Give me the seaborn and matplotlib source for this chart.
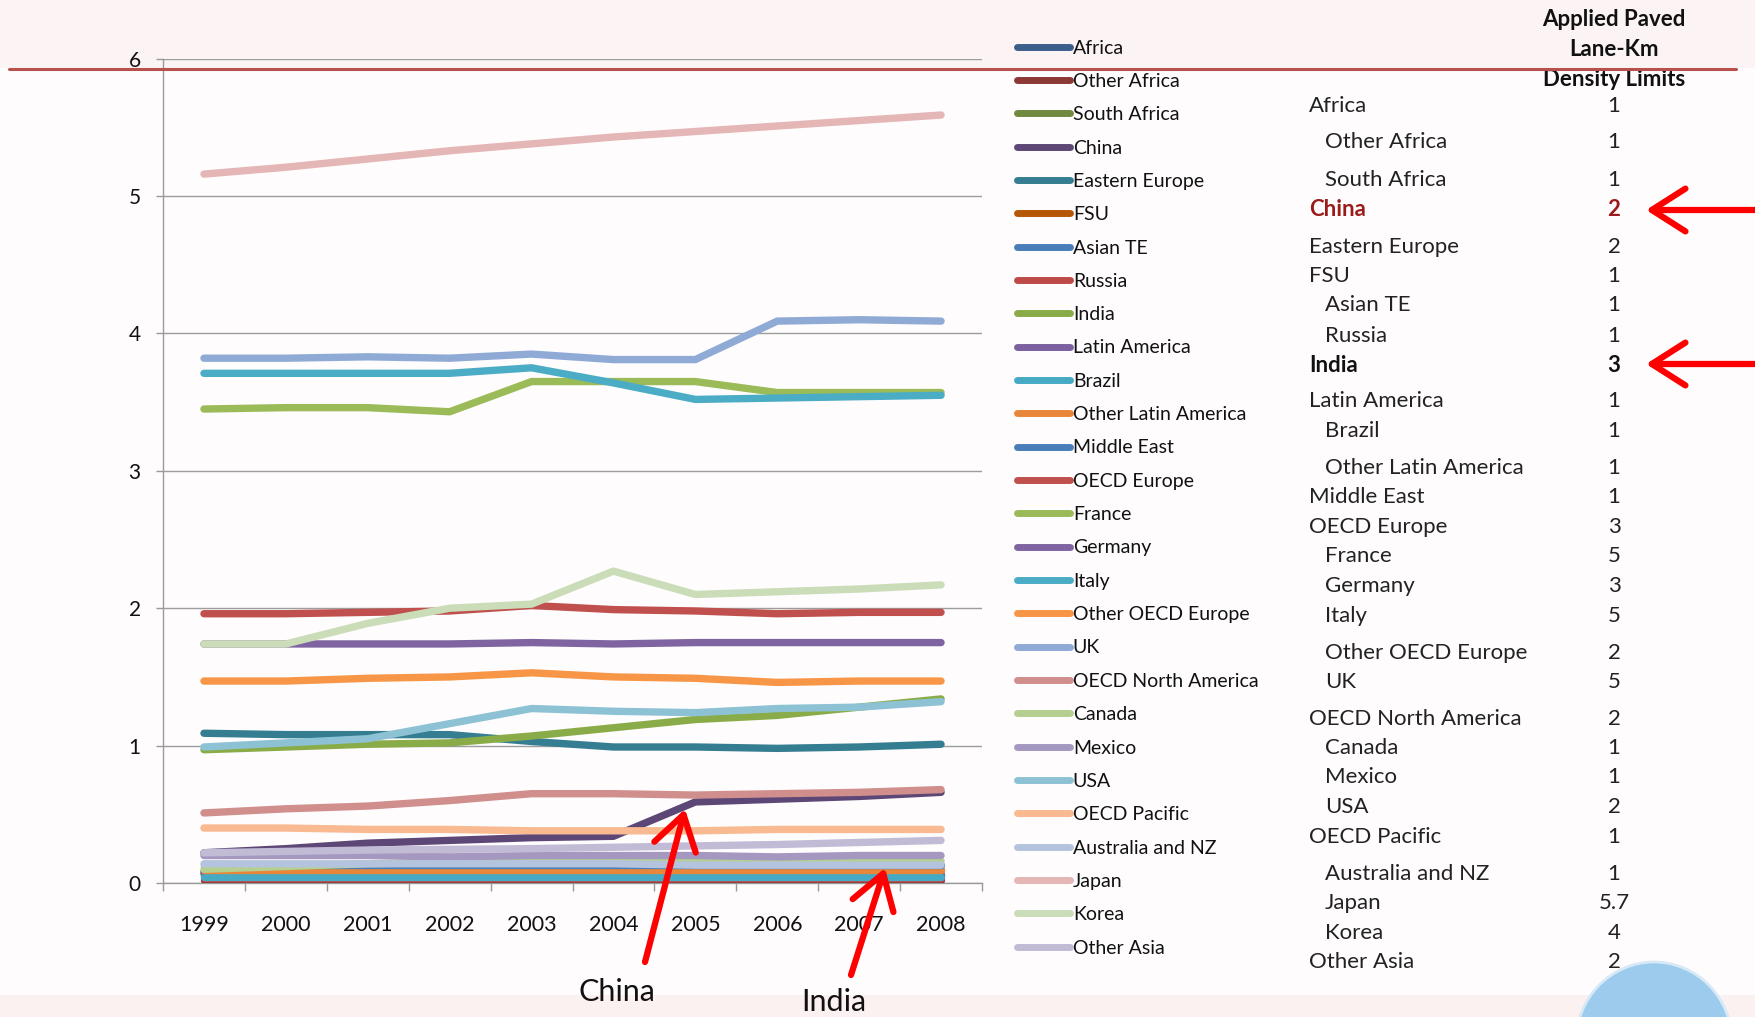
import matplotlib
matplotlib.use("Agg")
import matplotlib.pyplot as plt
import seaborn as sns
import pandas as pd
import numpy as np
from matplotlib.lines import Line2D
from matplotlib.patches import Rectangle, Ellipse, FancyArrowPatch

# ---------------- data ----------------
years = [1999, 2000, 2001, 2002, 2003, 2004, 2005, 2006, 2007, 2008]

africa          = [0.05, 0.05, 0.05, 0.05, 0.05, 0.05, 0.05, 0.05, 0.05, 0.05]
other_africa    = [0.02, 0.02, 0.02, 0.02, 0.02, 0.02, 0.02, 0.02, 0.02, 0.02]
south_africa    = [0.06, 0.06, 0.06, 0.06, 0.06, 0.06, 0.06, 0.06, 0.06, 0.06]
china           = [0.22, 0.25, 0.29, 0.31, 0.33, 0.34, 0.59, 0.61, 0.63, 0.66]
eastern_europe  = [1.09, 1.08, 1.08, 1.08, 1.03, 0.99, 0.99, 0.98, 0.99, 1.01]
fsu             = [0.07, 0.07, 0.07, 0.07, 0.075, 0.075, 0.075, 0.078, 0.078, 0.078]
asian_te        = [0.08, 0.11, 0.11, 0.10, 0.10, 0.10, 0.10, 0.10, 0.10, 0.10]
russia          = [0.04, 0.04, 0.04, 0.04, 0.04, 0.04, 0.04, 0.04, 0.04, 0.04]
india           = [0.97, 0.99, 1.01, 1.02, 1.07, 1.13, 1.19, 1.22, 1.28, 1.34]
latin_america   = [0.055, 0.055, 0.055, 0.055, 0.055, 0.055, 0.055, 0.055, 0.055, 0.055]
brazil          = [0.045, 0.045, 0.045, 0.045, 0.045, 0.045, 0.045, 0.045, 0.045, 0.045]
other_latam     = [0.095, 0.095, 0.095, 0.095, 0.095, 0.095, 0.095, 0.095, 0.095, 0.095]
middle_east     = [0.13, 0.13, 0.13, 0.13, 0.13, 0.13, 0.13, 0.13, 0.13, 0.13]
oecd_europe     = [1.96, 1.96, 1.97, 1.98, 2.02, 1.99, 1.98, 1.96, 1.97, 1.97]
france          = [3.45, 3.46, 3.46, 3.43, 3.65, 3.65, 3.65, 3.57, 3.57, 3.57]
germany         = [1.74, 1.74, 1.74, 1.74, 1.75, 1.74, 1.75, 1.75, 1.75, 1.75]
italy           = [3.71, 3.71, 3.71, 3.71, 3.75, 3.64, 3.52, 3.53, 3.54, 3.55]
other_oecd_eur  = [1.47, 1.47, 1.49, 1.50, 1.53, 1.50, 1.49, 1.46, 1.47, 1.47]
uk              = [3.82, 3.82, 3.83, 3.82, 3.85, 3.81, 3.81, 4.09, 4.10, 4.09]
oecd_n_america  = [0.51, 0.54, 0.56, 0.60, 0.65, 0.65, 0.64, 0.65, 0.66, 0.68]
canada          = [0.10, 0.12, 0.14, 0.15, 0.16, 0.16, 0.16, 0.16, 0.16, 0.16]
mexico          = [0.20, 0.20, 0.20, 0.19, 0.20, 0.20, 0.20, 0.19, 0.20, 0.20]
usa             = [0.99, 1.02, 1.05, 1.16, 1.27, 1.25, 1.24, 1.27, 1.28, 1.32]
oecd_pacific    = [0.40, 0.40, 0.39, 0.39, 0.38, 0.38, 0.38, 0.39, 0.39, 0.39]
australia_nz    = [0.14, 0.14, 0.14, 0.14, 0.14, 0.14, 0.13, 0.13, 0.13, 0.13]
japan           = [5.16, 5.21, 5.27, 5.33, 5.38, 5.43, 5.47, 5.51, 5.55, 5.59]
korea           = [1.74, 1.74, 1.89, 2.00, 2.03, 2.27, 2.10, 2.12, 2.14, 2.17]
other_asia      = [0.22, 0.23, 0.24, 0.245, 0.25, 0.26, 0.27, 0.28, 0.295, 0.31]

series_names = ["Africa", "Other Africa", "South Africa", "China", "Eastern Europe",
                "FSU", "Asian TE", "Russia", "India", "Latin America", "Brazil",
                "Other Latin America", "Middle East", "OECD Europe", "France",
                "Germany", "Italy", "Other OECD Europe", "UK", "OECD North America",
                "Canada", "Mexico", "USA", "OECD Pacific", "Australia and NZ",
                "Japan", "Korea", "Other Asia"]
series_values = [africa, other_africa, south_africa, china, eastern_europe, fsu,
                 asian_te, russia, india, latin_america, brazil, other_latam,
                 middle_east, oecd_europe, france, germany, italy, other_oecd_eur,
                 uk, oecd_n_america, canada, mexico, usa, oecd_pacific,
                 australia_nz, japan, korea, other_asia]

# table on the right
table_labels = ["Africa", "Other Africa", "South Africa", "China", "Eastern Europe",
                "FSU", "Asian TE", "Russia", "India", "Latin America", "Brazil",
                "Other Latin America", "Middle East", "OECD Europe", "France",
                "Germany", "Italy", "Other OECD Europe", "UK", "OECD North America",
                "Canada", "Mexico", "USA", "OECD Pacific", "Australia and NZ",
                "Japan", "Korea", "Other Asia"]
table_limits = ["1", "1", "1", "2", "2", "1", "1", "1", "3", "1", "1", "1", "1",
                "3", "5", "3", "5", "2", "5", "2", "1", "1", "2", "1", "1", "5.7",
                "4", "2"]
table_indented = [False, True, True, False, False, False, True, True, False, False,
                  True, True, False, False, True, True, True, True, True, False,
                  True, True, True, False, True, True, True, False]

# ---------------- styles / layout ----------------
palette = ["#3a5f8b", "#8c3836", "#71893f", "#5c4776", "#357d91", "#b65708",
           "#4a7ebb", "#be4b48", "#8aac48", "#7d60a0", "#46aac5", "#e8873a",
           "#4a7ebb", "#c0504d", "#9bbb59", "#8064a2", "#4bacc6", "#f79646",
           "#8eaad5", "#d08e8c", "#b5cf90", "#a598c0", "#8dc2d5", "#f9b991",
           "#b4c4de", "#e4b6b5", "#cbdcb8", "#c2bbd6"]
# row centres (pixels from top) for the table
table_row_y = [106, 142, 180, 209, 247, 276, 305, 336, 365, 401, 431, 468, 497,
               527, 556, 586, 616, 653, 682, 719, 748, 777, 807, 837, 874, 903,
               933, 962]

W, H = 1756, 1017
FONT = ["Lato", "DejaVu Sans"]

sns.set_theme(style="white")
plt.rcParams["font.family"] = FONT

fig = plt.figure(figsize=(W / 100, H / 100), dpi=100)
fig.patch.set_facecolor("#fefcfc")

def fx(px):
    return px / W

def fy(py):
    return 1 - py / H

# slide background decorations
fig.add_artist(Rectangle((0, fy(68)), 1, 68 / H, transform=fig.transFigure,
                         facecolor="#fcf4f4", edgecolor="none", zorder=0))
fig.add_artist(Rectangle((0, 0), 1, 22 / H, transform=fig.transFigure,
                         facecolor="#fcf1f1", edgecolor="none", zorder=0))
fig.add_artist(Line2D([fx(9), fx(1736)], [fy(69), fy(69)], transform=fig.transFigure,
                      color="#b8504e", lw=2.2, zorder=5))

# ---------------- chart ----------------
ax = fig.add_axes([fx(163), fy(883), fx(982) - fx(163), (883 - 58.7) / H])
ax.set_facecolor("none")

rows = []
for name, vals in zip(series_names, series_values):
    for i, v in enumerate(vals):
        rows.append({"idx": i, "value": v, "series": name})
df = pd.DataFrame(rows)

sns.lineplot(data=df, x="idx", y="value", hue="series", hue_order=series_names,
             palette=palette, linewidth=5.3, legend=False, ax=ax, sort=False,
             solid_capstyle="round", solid_joinstyle="round", zorder=3)

ax.set_xlim(-0.5, len(years) - 0.5)
ax.set_ylim(0, 6)
ax.set_yticks(range(0, 7))
ax.set_yticklabels([str(v) for v in range(0, 7)], fontsize=15, color="#111111")
ax.set_xticks(range(len(years)))
ax.set_xticklabels([str(y) for y in years], fontsize=15.5, color="#111111")
ax.set_xticks(np.arange(-0.5, len(years)), minor=True)
ax.tick_params(axis="x", which="major", length=0, pad=23)
ax.tick_params(axis="x", which="minor", length=6, width=1, color="#9a9a9a",
               direction="out", bottom=True)
ax.tick_params(axis="y", which="major", length=5, width=1, color="#9a9a9a",
               direction="out", left=True, pad=11)
ax.grid(axis="y", color="#9d9d9d", lw=1, zorder=1)
ax.grid(axis="x", visible=False)
for s in ["top", "right"]:
    ax.spines[s].set_visible(False)
for s in ["left", "bottom"]:
    ax.spines[s].set_color("#9a9a9a")
    ax.spines[s].set_linewidth(1)
ax.set_xlabel("")
ax.set_ylabel("")

# legend
handles = [Line2D([0], [0], color=c, lw=5, solid_capstyle="round")
           for c in palette]
leg = ax.legend(handles, series_names, loc="upper left",
                bbox_to_anchor=(fx(1017), fy(39.5)), bbox_transform=fig.transFigure,
                frameon=False, fontsize=14, handlelength=2.75, handletextpad=0.12,
                labelspacing=0.84, borderpad=0, borderaxespad=0)
for t in leg.get_texts():
    t.set_color("#111111")

# ---------------- table ----------------
for j, line in enumerate(["Applied Paved", "Lane-Km", "Density Limits"]):
    fig.text(fx(1614), fy(20 + j * 29.5), line, ha="center", va="center",
             fontsize=16, fontweight="bold", color="#111111")

for lab, lim, ind, yy in zip(table_labels, table_limits, table_indented, table_row_y):
    color = "#222222"
    weight = "normal"
    if lab == "China":
        color = "#9b1b1b"
        weight = "bold"
    elif lab == "India":
        color = "#111111"
        weight = "bold"
    fig.text(fx(1325 if ind else 1309), fy(yy), lab, ha="left", va="center",
             fontsize=16, color=color, fontweight=weight)
    fig.text(fx(1614), fy(yy), lim, ha="center", va="center", fontsize=16,
             color=color, fontweight=weight)

# ---------------- arrows & annotations ----------------
def red_arrow(tail, head):
    fig.add_artist(FancyArrowPatch(
        (fx(tail[0]), fy(tail[1])), (fx(head[0]), fy(head[1])),
        transform=fig.transFigure, arrowstyle="->,head_length=1.1,head_width=0.7",
        color="#ff0000", lw=4.5, mutation_scale=22, zorder=10,
        shrinkA=0, shrinkB=0, capstyle="round", joinstyle="round"))

red_arrow((645, 962), (685, 809))
red_arrow((851, 975), (885, 868))
red_arrow((1756, 210), (1646, 210))
red_arrow((1756, 364), (1646, 364))

fig.text(fx(617), fy(992), "China", ha="center", va="center", fontsize=22,
         color="#111111")
fig.text(fx(834), fy(1002), "India", ha="center", va="center", fontsize=22,
         color="#111111")

# small globe logo in corner
fig.add_artist(Ellipse((fx(1654), fy(1042)), 156 / W, 160 / H,
                       transform=fig.transFigure, facecolor="#9ccbee",
                       edgecolor="#d7e9f7", lw=2, zorder=2))

fig.savefig("out.png", dpi=100, facecolor=fig.get_facecolor())
